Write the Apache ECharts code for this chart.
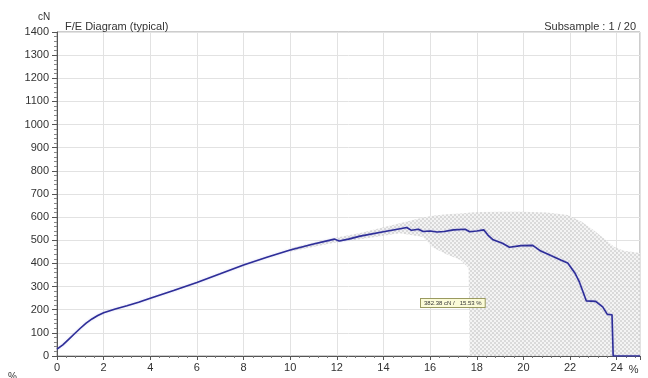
<!DOCTYPE html>
<html><head><meta charset="utf-8">
<script src="https://cdn.jsdelivr.net/npm/echarts@6/dist/echarts.min.js"></script>
<style>html,body{margin:0;padding:0;background:#fff}#c{width:648px;height:378px}</style>
</head><body><div id="c"></div>
<script>
// Typical F/E curve (elongation %, force cN)
const curveX = [0,0.25,0.5,0.75,1,1.25,1.5,1.75,2,2.5,3,3.5,4,5,6,7,8,9,10,11,11.9,12.1,12.5,13,14,14.6,15,15.2,15.5,15.7,16,16.3,16.6,17,17.5,17.7,18,18.3,18.5,18.7,19.1,19.4,19.9,20.4,20.7,21.2,21.6,21.9,22.2,22.4,22.7,23.1,23.4,23.6,23.8,23.85,25];
const curveY = [30,48,72,96,120,142,160,175,187,203,217,232,250,283,318,355,393,427,458,484,505,497,505,518,537,548,555,543,548,538,540,536,538,545,548,537,540,545,520,502,487,470,477,478,456,433,415,402,360,320,238,236,212,180,178,0,0];
// Envelope of all subsamples
const bandX    = [10,12,13,14,14.7,15.7,16.1,16.7,17.3,17.65,17.7,18.2,19,20,21,21.9,22.5,23.0,23.5,23.9,24.3,25];
const bandHigh = [466,512,532,556,574,598,606,612,616,619,620,622,623,623,620,609,580,544,505,471,455,445];
const bandLow  = [452,492,505,520,530,514,470,440,415,380,0,0,0,0,0,0,0,0,0,0,0,0];
const xTicks = [0,2,4,6,8,10,12,14,16,18,20,22,24];
const yTicks = [0,100,200,300,400,500,600,700,800,900,1000,1100,1200,1300,1400];
const titleText = 'F/E Diagram (typical)';
const subText = 'Subsample : 1 / 20';
const annText = '382.38 cN /   15.53 %';

const pc = document.createElement('canvas');
pc.width = 4; pc.height = 4;
const g = pc.getContext('2d');
g.fillStyle = '#f3f3f3'; g.fillRect(0,0,4,4);
g.fillStyle = '#d4d4d4'; g.fillRect(0,0,2,2); g.fillRect(2,2,2,2);

const ch = echarts.init(document.getElementById('c'));
const font = 'Liberation Sans, Arial, sans-serif';
ch.setOption({
  animation: false,
  textStyle: {fontFamily: font},
  grid: {left: 57, right: 8, top: 32, bottom: 22, show: true, borderColor: '#9a9a9a', borderWidth: 1},
  title: [
    {text: titleText, left: 60, top: 16, textStyle: {fontSize: 11, fontWeight: 'normal', color: '#333', fontFamily: font}},
    {text: subText, right: 7, top: 16, textStyle: {fontSize: 11, fontWeight: 'normal', color: '#333', fontFamily: font}},
    {text: 'cN', left: 33, top: 7, textStyle: {fontSize: 10, fontWeight: 'normal', color: '#333', fontFamily: font}},
    {text: '%', left: 3, top: 367, textStyle: {fontSize: 10, fontWeight: 'normal', color: '#333', fontFamily: font}}
  ],
  xAxis: {
    type: 'value', min: 0, max: 25, interval: 2,
    name: '%', nameLocation: 'end', nameGap: -14,
    nameTextStyle: {fontSize: 11, color: '#333', verticalAlign: 'top', padding: [8,0,0,0]},
    axisLine: {lineStyle: {color: '#555'}},
    axisTick: {show: true, length: 4, lineStyle: {color: '#555'}},
    minorTick: {show: true, splitNumber: 5, length: 2, lineStyle: {color: '#777'}},
    axisLabel: {fontSize: 11, color: '#333', margin: 6, formatter: v => xTicks.includes(v) ? String(v) : ''},
    splitLine: {show: true, lineStyle: {color: '#e2e2e2'}}
  },
  yAxis: {
    type: 'value', min: 0, max: 1400, interval: 100,
    axisLine: {show: true, lineStyle: {color: '#555'}},
    axisTick: {show: true, length: 5, lineStyle: {color: '#555'}},
    minorTick: {show: true, splitNumber: 5, length: 3, lineStyle: {color: '#888'}},
    axisLabel: {fontSize: 11, color: '#333', margin: 8, formatter: v => yTicks.includes(v) ? String(v) : ''},
    splitLine: {show: true, lineStyle: {color: '#e2e2e2'}}
  },
  series: [
    {type: 'custom', name: 'band', silent: true, z: 1, clip: true,
     data: bandX.map((x,i)=>[x, bandLow[i], bandHigh[i]]),
     renderItem: function (params, api) {
       if (params.dataIndex !== 0) return null;
       const pts = [];
       for (let i = 0; i < bandX.length; i++) pts.push(api.coord([bandX[i], bandHigh[i]]));
       for (let i = bandX.length - 1; i >= 0; i--) pts.push(api.coord([bandX[i], bandLow[i]]));
       return {type: 'polygon', shape: {points: pts},
               style: {fill: {image: pc, repeat: 'repeat'}, opacity: 0.85}};
     }},
    {type: 'line', name: 'curve', symbol: 'none', z: 5,
     lineStyle: {color: '#2e2e98', width: 1.6, shadowColor: 'rgba(120,120,220,0.35)', shadowBlur: 2},
     data: curveX.map((x,i)=>[x, curveY[i]])}
  ],
  graphic: [{
    type: 'text', left: 420, top: 298, z: 10,
    style: {text: annText, fontSize: 6, fill: '#333', fontFamily: font,
      backgroundColor: '#fbfbd8', borderColor: '#9a9a60', borderWidth: 1, padding: [1,3]}
  }]
});
</script></body></html>
